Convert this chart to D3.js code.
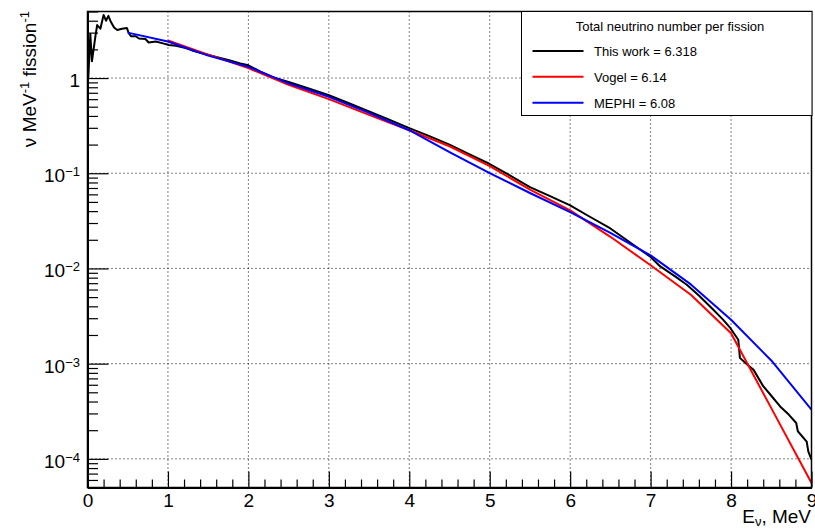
<!DOCTYPE html>
<html>
<head>
<meta charset="utf-8">
<script src="https://cdn.jsdelivr.net/npm/d3@7"></script>
<style>
  html, body { margin: 0; padding: 0; background: #fff; }
  svg { display: block; font-family: "Liberation Sans", Arial, Helvetica, sans-serif; }
</style>
</head>
<body>
<svg id="chart" width="815" height="530"></svg>
<script>
// ---------------- DATA ----------------
const thisWorkE = [0.01, 0.035, 0.055, 0.1, 0.12, 0.16, 0.2, 0.23, 0.26, 0.29, 0.33, 0.37, 0.43, 0.49, 0.51, 0.54, 0.6, 0.64, 0.72, 0.76, 0.85, 0.95, 1.01, 1.1, 1.22, 1.3, 1.45,
  1.6, 1.75, 1.9, 2.0, 2.15, 2.3, 2.5, 2.75, 3.0, 3.25, 3.5, 3.75, 4.0, 4.25, 4.5, 4.75, 5.0, 5.25, 5.5, 5.75, 6.0, 6.25, 6.5, 6.75, 7.0, 7.12, 7.3, 7.45, 7.6, 7.78, 7.9, 7.99, 8.09, 8.11, 8.2, 8.28, 8.4, 8.5, 8.61, 8.72, 8.81, 8.83, 8.94, 8.96, 9.0];
const thisWorkV = [1.0, 2.9, 1.5, 2.8, 3.6, 3.3, 4.6, 4.0, 4.5, 3.9, 3.4, 3.2, 3.3, 3.35, 3.0, 2.75, 2.75, 2.6, 2.57, 2.36, 2.42, 2.3, 2.22, 2.18, 2.07, 1.95, 1.80,
  1.66, 1.55, 1.42, 1.36, 1.17, 1.02, 0.91, 0.776, 0.66, 0.543, 0.447, 0.366, 0.298, 0.245, 0.20, 0.158, 0.125, 0.095, 0.0716, 0.0574, 0.046, 0.0347, 0.0263, 0.0186, 0.0132, 0.0105, 0.0083, 0.00675, 0.0052, 0.00368, 0.0029, 0.00237, 0.00178, 0.00115, 0.00098, 0.00086, 0.00058, 0.00046, 0.000355, 0.00029, 0.000238, 0.000195, 0.000152, 0.00012, 0.0000978];

const vogelE = [1.0, 1.5, 2.0, 2.5, 3.0, 3.5, 4.0, 4.5, 5.0, 5.5, 6.0, 6.5, 7.0, 7.5, 8.0, 8.5, 9.0];
const vogelV = [2.48, 1.76, 1.27, 0.85, 0.60, 0.41, 0.283, 0.192, 0.119, 0.0673, 0.0408, 0.0215, 0.0108, 0.0053, 0.00209, 0.000341, 0.0000557];

const mephiE = [0.5, 1.0, 1.5, 2.0, 2.5, 3.0, 3.5, 4.0, 4.5, 5.0, 5.5, 6.0, 6.5, 7.0, 7.5, 8.0, 8.5, 9.0];
const mephiV = [3.0, 2.42, 1.72, 1.31, 0.88, 0.635, 0.43, 0.283, 0.167, 0.1005, 0.062, 0.039, 0.0237, 0.0137, 0.0068, 0.00289, 0.00108, 0.000328];

const seriesNames = ["This work = 6.318", "Vogel = 6.14", "MEPHI = 6.08"];
const seriesColors = ["#000000", "#ff0000", "#0000ff"];
const legendTitle = "Total neutrino number per fission";

const xTickValues = [0, 1, 2, 3, 4, 5, 6, 7, 8, 9];
const yTickExponents = [-4, -3, -2, -1, 0];

// ---------------- CHART ----------------
const svg = d3.select("#chart");
const L = 87.5, R = 811.5, T = 11.5, B = 487.5;
const x = d3.scaleLinear().domain([0, 9]).range([L, R]);
const y = d3.scaleLog().domain([5e-5, 5]).range([B, T]);

// grid (dotted)
const grid = svg.append("g").attr("stroke", "#000").attr("stroke-width", 1).attr("stroke-dasharray", "1,3");
xTickValues.filter(v => v > 0 && v < 9).forEach(v => {
  grid.append("line").attr("x1", x(v)).attr("x2", x(v)).attr("y1", T).attr("y2", B);
});
yTickExponents.forEach(e => {
  grid.append("line").attr("x1", L).attr("x2", R).attr("y1", y(Math.pow(10, e))).attr("y2", y(Math.pow(10, e)));
});

// curves
svg.append("clipPath").attr("id", "clip").append("rect")
  .attr("x", L).attr("y", T).attr("width", R - L).attr("height", B - T);
const line = d3.line().x(d => x(d[0])).y(d => y(d[1]));
const seriesData = [
  d3.zip(thisWorkE, thisWorkV),
  d3.zip(vogelE, vogelV),
  d3.zip(mephiE, mephiV)
];
const curves = svg.append("g").attr("clip-path", "url(#clip)");
seriesData.forEach((d, i) => {
  curves.append("path").datum(d)
    .attr("d", line)
    .attr("fill", "none")
    .attr("stroke", seriesColors[i])
    .attr("stroke-width", 2)
    .attr("stroke-linejoin", "round");
});

// frame
svg.append("rect").attr("x", L).attr("y", T).attr("width", R - L).attr("height", B - T)
  .attr("fill", "none").attr("stroke", "#000").attr("stroke-width", 1.5);

// x axis
const xMinor = d3.range(0, 45).map(i => i * 0.2).filter(v => Math.abs(v - Math.round(v)) > 1e-6);
const gxMinor = svg.append("g").attr("transform", `translate(0,${B})`)
  .call(d3.axisBottom(x).tickValues(xMinor).tickSize(-8).tickSizeOuter(0).tickFormat(""));
const gx = svg.append("g").attr("transform", `translate(0,${B})`)
  .call(d3.axisBottom(x).tickValues(xTickValues).tickSize(-16).tickSizeOuter(0).tickPadding(6).tickFormat(d3.format("d")));
[gx, gxMinor].forEach(g => {
  g.select(".domain").attr("stroke-width", 2);
  g.selectAll(".tick line").attr("stroke-width", 1.2);
});
gx.selectAll(".tick text").attr("font-size", 19).attr("font-family", "Liberation Sans, Arial, sans-serif").attr("fill", "#000");

// y axis
const yMinor = [];
for (let e = -5; e <= 0; e++) for (let k = 2; k <= 9; k++) {
  const v = k * Math.pow(10, e);
  if (v >= 5e-5 && v <= 5) yMinor.push(v);
}
const gyMinor = svg.append("g").attr("transform", `translate(${L},0)`)
  .call(d3.axisLeft(y).tickValues(yMinor).tickSize(-10.5).tickSizeOuter(0).tickFormat(""));
const yMajors = yTickExponents.map(e => Math.pow(10, e));
const gy = svg.append("g").attr("transform", `translate(${L},0)`)
  .call(d3.axisLeft(y).tickValues(yMajors).tickSize(-21).tickSizeOuter(0).tickFormat(""));
[gy, gyMinor].forEach(g => {
  g.select(".domain").attr("stroke-width", 2);
  g.selectAll(".tick line").attr("stroke-width", 1.2);
});

// y tick labels with superscripts
yTickExponents.forEach(e => {
  const yy = y(Math.pow(10, e)) + 9;
  const t = svg.append("text").attr("x", 80).attr("y", yy).attr("text-anchor", "end")
    .attr("font-size", 19).attr("fill", "#000");
  if (e === 0) {
    t.text("1");
  } else {
    t.append("tspan").text("10");
    t.append("tspan").attr("font-size", 13).attr("dy", -6).text("\u2212" + (-e));
  }
});

// x axis title
const xt = svg.append("text").attr("x", 811).attr("y", 523).attr("text-anchor", "end")
  .attr("font-size", 19).attr("fill", "#000");
xt.append("tspan").text("E");
xt.append("tspan").attr("font-size", 13).attr("dy", 3).text("\u03bd");
xt.append("tspan").attr("dy", -3).text(", MeV");

// y axis title
const yt = svg.append("text").attr("transform", "translate(36,11) rotate(-90)")
  .attr("text-anchor", "end").attr("font-size", 19).attr("fill", "#000");
yt.append("tspan").text("\u03bd MeV");
yt.append("tspan").attr("font-size", 13).attr("dy", -7).text("-1");
yt.append("tspan").attr("dy", 7).text(" fission");
yt.append("tspan").attr("font-size", 13).attr("dy", -7).text("-1");

// legend
const lg = svg.append("g");
lg.append("rect").attr("x", 521.5).attr("y", 11.5).attr("width", 290.5).attr("height", 104)
  .attr("fill", "#fff").attr("stroke", "#000").attr("stroke-width", 1);
lg.append("text").attr("x", 670).attr("y", 30.5).attr("text-anchor", "middle")
  .attr("font-size", 13).attr("fill", "#000").text(legendTitle);
const legendY = [51, 76.7, 102.7];
seriesNames.forEach((name, i) => {
  lg.append("line").attr("x1", 532.5).attr("x2", 583.5).attr("y1", legendY[i]).attr("y2", legendY[i])
    .attr("stroke", seriesColors[i]).attr("stroke-width", 2);
  lg.append("text").attr("x", 594).attr("y", legendY[i] + 5).attr("font-size", 13)
    .attr("fill", "#000").text(name);
});
</script>
</body>
</html>
